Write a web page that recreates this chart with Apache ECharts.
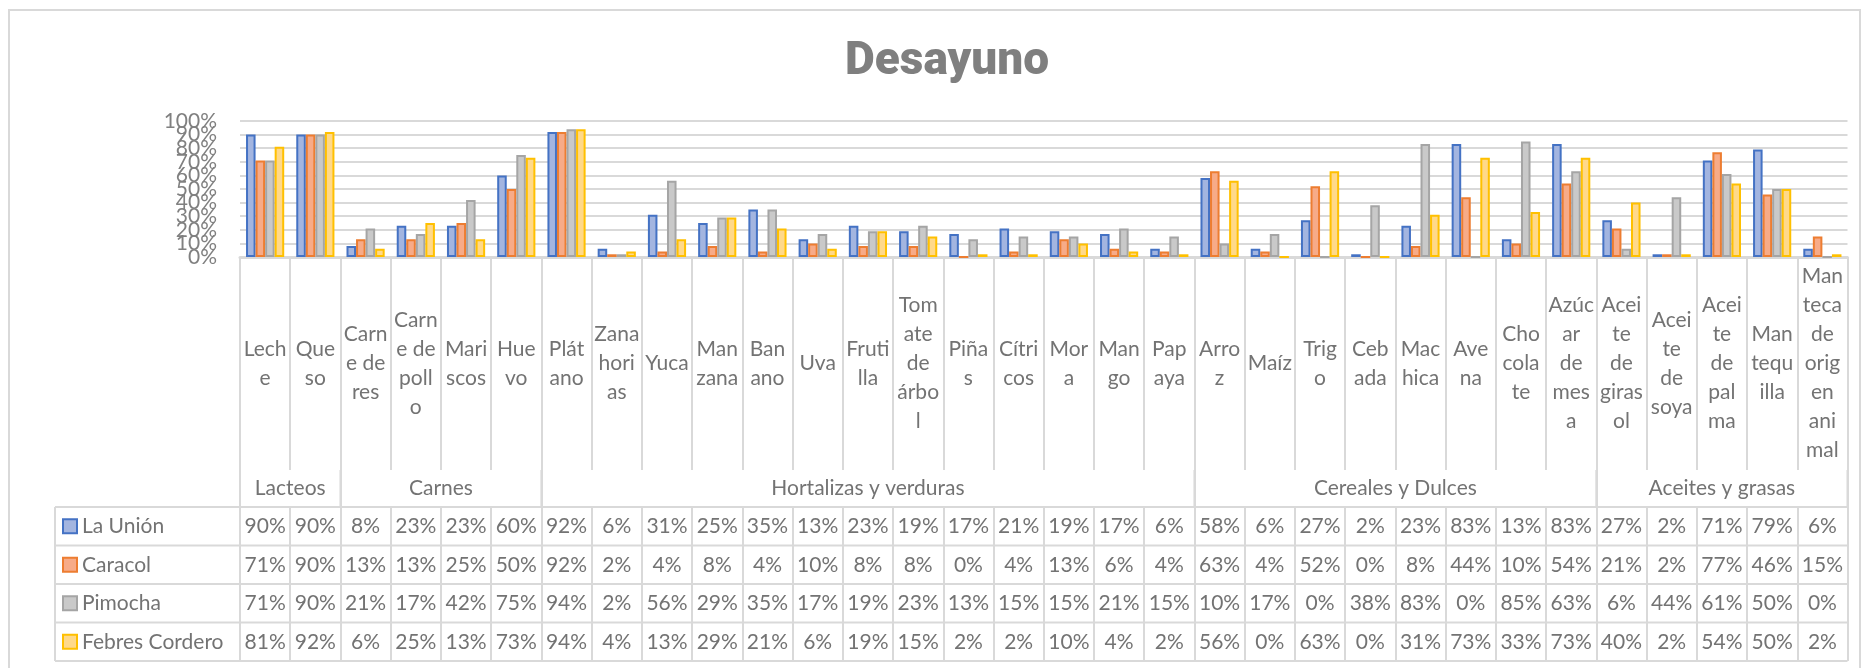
<!DOCTYPE html>
<html>
<head>
<meta charset="utf-8">
<title>Desayuno</title>
<script src="https://cdn.jsdelivr.net/npm/echarts@6/dist/echarts.min.js"></script>
<style>
  html, body { margin: 0; padding: 0; background: #fff; }
  #main { width: 1862px; height: 668px; }
</style>
</head>
<body>
<div id="main"></div>
<script>
// categorias (nombre completo) y como se cortan en el eje
const categories = ['Leche', 'Queso', 'Carne de res', 'Carne de pollo', 'Mariscos', 'Huevo',
  'Plátano', 'Zanahorias', 'Yuca', 'Manzana', 'Banano', 'Uva', 'Frutilla', 'Tomate de árbol',
  'Piñas', 'Cítricos', 'Mora', 'Mango', 'Papaya',
  'Arroz', 'Maíz', 'Trigo', 'Cebada', 'Machica', 'Avena', 'Chocolate', 'Azúcar de mesa',
  'Aceite de girasol', 'Aceite de soya', 'Aceite de palma', 'Mantequilla', 'Manteca de origen animal'];
const categoryLabels = ['Lech\ne', 'Que\nso', 'Carn\ne de\nres', 'Carn\ne de\npoll\no', 'Mari\nscos', 'Hue\nvo',
  'Plát\nano', 'Zana\nhori\nas', 'Yuca', 'Man\nzana', 'Ban\nano', 'Uva', 'Fruti\nlla', 'Tom\nate\nde\nárbo\nl',
  'Piña\ns', 'Cítri\ncos', 'Mor\na', 'Man\ngo', 'Pap\naya',
  'Arro\nz', 'Maíz', 'Trig\no', 'Ceb\nada', 'Mac\nhica', 'Ave\nna', 'Cho\ncola\nte', 'Azúc\nar\nde\nmes\na',
  'Acei\nte\nde\ngiras\nol', 'Acei\nte\nde\nsoya', 'Acei\nte\nde\npal\nma', 'Man\ntequ\nilla', 'Man\nteca\nde\norig\nen\nani\nmal'];

const groupNames = ['Lacteos', 'Carnes', 'Hortalizas y verduras', 'Cereales y Dulces', 'Aceites y grasas'];
const groupSizes = [2, 4, 13, 8, 5];

const seriesNames = ['La Unión', 'Caracol', 'Pimocha', 'Febres Cordero'];
const laUnion = [90, 90, 8, 23, 23, 60, 92, 6, 31, 25, 35, 13, 23, 19, 17, 21, 19, 17, 6, 58, 6, 27, 2, 23, 83, 13, 83, 27, 2, 71, 79, 6];
const caracol = [71, 90, 13, 13, 25, 50, 92, 2, 4, 8, 4, 10, 8, 8, 0, 4, 13, 6, 4, 63, 4, 52, 0, 8, 44, 10, 54, 21, 2, 77, 46, 15];
const pimocha = [71, 90, 21, 17, 42, 75, 94, 2, 56, 29, 35, 17, 19, 23, 13, 15, 15, 21, 15, 10, 17, 0, 38, 83, 0, 85, 63, 6, 44, 61, 50, 0];
const febresCordero = [81, 92, 6, 25, 13, 73, 94, 4, 13, 29, 21, 6, 19, 15, 2, 2, 10, 4, 2, 56, 0, 63, 0, 31, 73, 33, 73, 40, 2, 54, 50, 2];

const yTicks = [0, 10, 20, 30, 40, 50, 60, 70, 80, 90, 100];

const seriesData = [laUnion, caracol, pimocha, febresCordero];
const fills = ['#a3b5e0', '#f7ab88', '#c9c9c9', '#ffd98a'];
const borders = ['#4472c4', '#ed7d31', '#a5a5a5', '#ffc000'];

// medidas del area (px)
const W = 1862, H = 668;
const gridLeft = 240, gridRight = 1847.5, gridTop = 121, axisY = 257;
const catRowH = 213, groupRowH = 37, rowH = 38.5;
const tableTop = axisY + catRowH + groupRowH;
const tableLeft = 55;
const lineCol = '#d9d9d9';
const txtCol = '#737373';
const font = 'Lato, "Open Sans", sans-serif';

// fronteras y centros de los grupos
const groupBounds = [0];
groupSizes.forEach(s => groupBounds.push(groupBounds[groupBounds.length - 1] + s));
const groupCenters = groupNames.map((g, i) => (groupBounds[i] + groupBounds[i + 1]) / 2);

var myChart = echarts.init(document.getElementById('main'));

const xAxes = [
  {
    type: 'category',
    data: categoryLabels,
    position: 'bottom',
    axisLine: { onZero: false, lineStyle: { color: lineCol, width: 3 } },
    axisTick: { show: true, interval: 0, length: catRowH, lineStyle: { color: lineCol, width: 2 } },
    axisLabel: {
      interval: 0, margin: catRowH / 2, verticalAlign: 'middle',
      fontFamily: font, fontSize: 21, lineHeight: 29, color: txtCol
    }
  },
  // nombres de grupo
  {
    type: 'value',
    min: 0,
    max: categories.length,
    position: 'bottom',
    offset: catRowH,
    axisLine: { show: false, onZero: false },
    splitLine: { show: false },
    axisTick: { show: true, customValues: groupBounds, length: groupRowH, lineStyle: { color: lineCol, width: 2 } },
    axisLabel: {
      customValues: groupCenters,
      margin: groupRowH / 2, verticalAlign: 'middle',
      fontFamily: font, fontSize: 21, color: txtCol,
      formatter: function (v) {
        const i = groupCenters.indexOf(v);
        return i >= 0 ? groupNames[i] : '';
      }
    }
  }
];

// filas de la tabla de datos
seriesData.forEach((vals, k) => {
  xAxes.push({
    type: 'category',
    data: vals.map(v => v + '%'),
    position: 'bottom',
    offset: catRowH + groupRowH + k * rowH,
    axisLine: { show: false, onZero: false },
    axisTick: { show: true, interval: 0, length: rowH, lineStyle: { color: lineCol, width: 2 } },
    axisLabel: {
      interval: 0, margin: rowH / 2, verticalAlign: 'middle',
      fontFamily: font, fontSize: 21, lineHeight: 21, color: txtCol
    }
  });
});

// eje Y: las etiquetas se pisan como en Excel, se reparten en dos ejes
// para que echarts no oculte ninguna
function yAxisFor(values, showSplit) {
  return {
    type: 'value',
    min: 0,
    max: 100,
    interval: 10,
    position: 'left',
    axisLine: { show: false, onZero: false },
    axisTick: { show: false },
    splitLine: { show: showSplit, lineStyle: { color: lineCol, width: 2 } },
    axisLabel: {
      customValues: values,
      showMinLabel: true,
      showMaxLabel: true,
      hideOverlap: false,
      margin: gridLeft - 217,
      fontFamily: font, fontSize: 21, lineHeight: 21, color: '#808080',
      formatter: '{value}%'
    }
  };
}
const yAxes = [
  yAxisFor(yTicks.filter((t, i) => i % 2 === 0), true),
  yAxisFor(yTicks.filter((t, i) => i % 2 === 1), false)
];

// lineas horizontales de la tabla + borde exterior
const graphics = [{
  type: 'rect',
  shape: { x: 9, y: 10, width: 1851, height: 700 },
  style: { fill: null, stroke: lineCol, lineWidth: 2 },
  silent: true
}];
for (let k = 0; k <= seriesData.length; k++) {
  graphics.push({
    type: 'line',
    shape: { x1: tableLeft, y1: tableTop + k * rowH, x2: gridRight, y2: tableTop + k * rowH },
    style: { stroke: lineCol, lineWidth: 2 },
    silent: true
  });
}
graphics.push({
  type: 'line',
  shape: { x1: tableLeft, y1: tableTop, x2: tableLeft, y2: tableTop + seriesData.length * rowH },
  style: { stroke: lineCol, lineWidth: 2 },
  silent: true
});

const option = {
  animation: false,
  backgroundColor: '#fff',
  title: {
    text: 'Desayuno',
    left: 840,
    top: 34,
    textStyle: { fontFamily: 'Roboto, sans-serif', fontWeight: 900, fontSize: 46, color: '#7f7f7f' }
  },
  legend: {
    orient: 'vertical',
    left: 62,
    top: tableTop + (rowH - 21) / 2,
    padding: 0,
    itemWidth: 14,
    itemHeight: 14,
    itemGap: rowH - 21,
    selectedMode: false,
    textStyle: { fontFamily: font, fontSize: 21, lineHeight: 21, color: txtCol },
    data: seriesNames.map((n, i) => ({
      name: n,
      icon: 'rect',
      itemStyle: { color: fills[i], borderColor: borders[i], borderWidth: 2 }
    }))
  },
  grid: {
    left: gridLeft,
    right: W - gridRight,
    top: gridTop,
    bottom: H - axisY
  },
  xAxis: xAxes,
  yAxis: yAxes,
  graphic: graphics,
  series: seriesNames.map((n, i) => ({
    name: n,
    type: 'bar',
    xAxisIndex: 0,
    yAxisIndex: 0,
    barGap: '0%',
    barCategoryGap: '24%',
    itemStyle: { color: fills[i], borderColor: borders[i], borderWidth: 2 },
    data: seriesData[i]
  }))
};

myChart.setOption(option, true);

// separadores de grupo en la fila de grupos, situados con la escala del eje de grupos
groupBounds.forEach(b => {
  const x = myChart.convertToPixel({ xAxisIndex: 1 }, b);
  graphics.push({
    type: 'line',
    shape: { x1: x, y1: axisY + catRowH, x2: x, y2: tableTop },
    style: { stroke: lineCol, lineWidth: 2 },
    silent: true
  });
});
myChart.setOption({ graphic: graphics });
</script>
</body>
</html>
